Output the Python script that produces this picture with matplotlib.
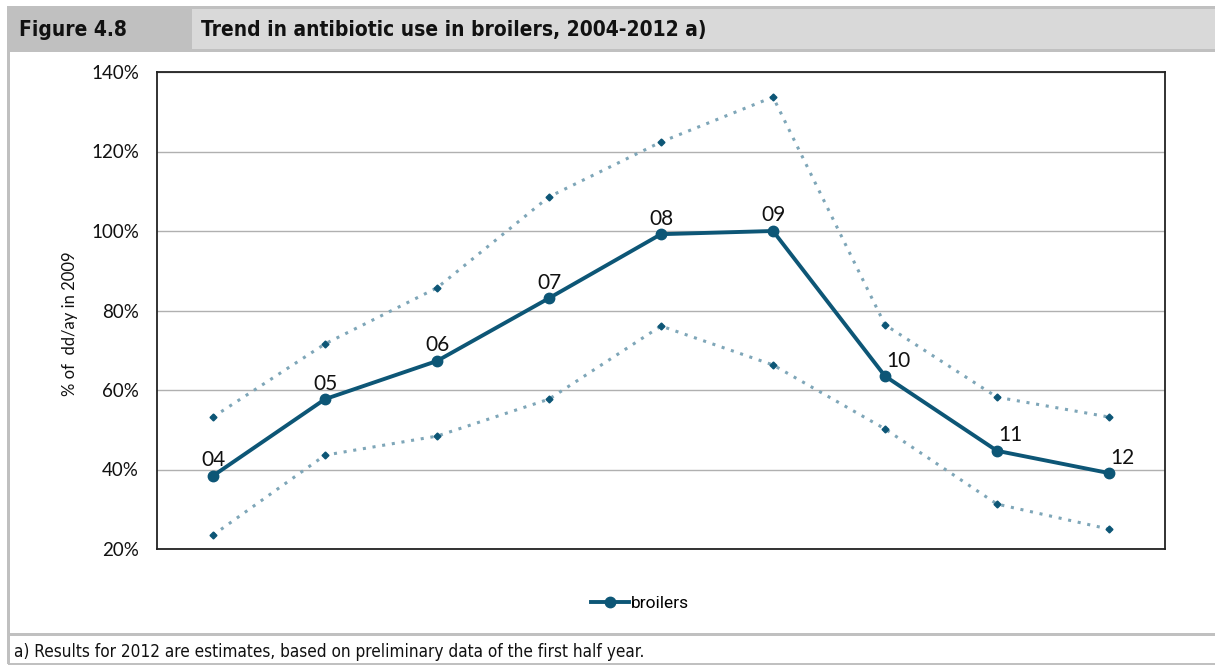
import matplotlib
matplotlib.use("Agg")
import matplotlib.pyplot as plt
from matplotlib.patches import Rectangle
from matplotlib.lines import Line2D

# data (% of dd/ay in 2009)
years = ["04", "05", "06", "07", "08", "09", "10", "11", "12"]
broilers = [38.4, 57.7, 67.3, 83.1, 99.2, 100.0, 63.5, 44.7, 39.1]
upper = [53.2, 71.6, 85.7, 108.6, 122.4, 133.7, 76.4, 58.2, 53.2]
lower = [23.5, 43.6, 48.4, 57.7, 76.1, 66.3, 50.2, 31.3, 25.0]
yticks = [20, 40, 60, 80, 100, 120, 140]

main_col = "#0d5676"
band_col = "#7ea6b8"
light = ["Lato", "DejaVu Sans"]

W, H = 1215, 666
fig = plt.figure(figsize=(W / 100, H / 100), dpi=100)

# frame decoration in pixel coordinates
bg = fig.add_axes([0, 0, 1, 1])
bg.set_xlim(0, W)
bg.set_ylim(H, 0)
bg.axis("off")
bg.add_patch(Rectangle((8, 6), W - 8, 46, color="#c0c0c0", lw=0))
bg.add_patch(Rectangle((192, 9), W - 192, 40, color="#d9d9d9", lw=0))
bg.add_patch(Rectangle((7, 6), 3, 658, color="#c0c0c0", lw=0))
bg.add_patch(Rectangle((8, 633), W - 8, 3, color="#c0c0c0", lw=0))
bg.add_patch(Rectangle((8, 663), W - 8, 2, color="#c0c0c0", lw=0))
bg.text(19, 30, "Figure 4.8", fontsize=15, fontweight="bold", family="DejaVu Sans",
        stretch="condensed", va="center", ha="left", color="#111111")
bg.text(201, 30, "Trend in antibiotic use in broilers, 2004-2012 a)", fontsize=15,
        fontweight="bold", family="DejaVu Sans", stretch="condensed",
        va="center", ha="left", color="#111111")
bg.text(14, 652, "a) Results for 2012 are estimates, based on preliminary data of the first half year.",
        fontsize=12.3, family="DejaVu Sans", stretch="condensed",
        va="center", ha="left", color="#111111")

ax = fig.add_axes([157 / W, 1 - 549 / H, 1008 / W, 477 / H])
x = list(range(len(years)))
ax.plot(x, upper, ls=(0, (1, 2.2)), lw=2.2, color=band_col, zorder=2)
ax.plot(x, lower, ls=(0, (1, 2.2)), lw=2.2, color=band_col, zorder=2)
ax.plot(x, upper, ls="none", marker="D", ms=3.5, color=main_col, zorder=3)
ax.plot(x, lower, ls="none", marker="D", ms=3.5, color=main_col, zorder=3)
ax.plot(x, broilers, color=main_col, lw=2.8, marker="o", ms=7.5, zorder=4)

for i, (lab, v) in enumerate(zip(years, broilers)):
    if i >= 6:
        ax.annotate(lab, (i, v), xytext=(1, 4), textcoords="offset points",
                    ha="left", va="bottom", fontsize=15, family=light, color="#111111")
    else:
        ax.annotate(lab, (i, v), xytext=(0, 4), textcoords="offset points",
                    ha="center", va="bottom", fontsize=15, family=light, color="#111111")

ax.set_xlim(-0.5, len(years) - 0.5)
ax.set_ylim(20, 140)
ax.set_yticks(yticks)
ax.set_yticklabels([f"{t}%" for t in yticks], family=light, fontsize=13.5, color="#111111")
ax.set_xticks([])
ax.tick_params(axis="y", length=0, pad=13)
ax.grid(axis="y", color="#b0b0b0", lw=1)
ax.set_axisbelow(True)
for s in ax.spines.values():
    s.set_color("#222222")
    s.set_linewidth(1.3)
ax.set_ylabel("% of  dd/ay in 2009", family=light, fontsize=12, color="#111111")
ax.yaxis.set_label_coords(-0.078, 0.472)

handle = Line2D([], [], color=main_col, lw=2.8, marker="o", ms=7.5)
fig.legend([handle], ["broilers"], loc="center", bbox_to_anchor=(640 / W, 1 - 603 / H),
           frameon=False, prop={"family": "Roboto", "size": 12.5}, handlelength=2.2,
           handletextpad=0.1)

fig.savefig("out.png", dpi=100)
